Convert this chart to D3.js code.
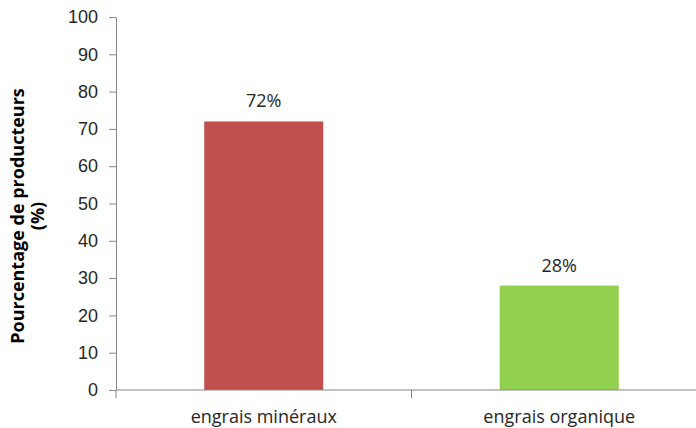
<!DOCTYPE html>
<html>
<head>
<meta charset="utf-8">
<script src="https://cdn.jsdelivr.net/npm/d3@7"></script>
<style>
  html, body { margin: 0; padding: 0; background: #fff; }
  svg { display: block; font-family: "Open Sans", "Liberation Sans", sans-serif; }
</style>
</head>
<body>
<svg id="chart" width="696" height="428"></svg>
<script>
const categories = ["engrais minéraux", "engrais organique"];
const values = [72, 28];
const barColors = ["#C0504D", "#92D050"];
const yTicks = [0, 10, 20, 30, 40, 50, 60, 70, 80, 90, 100];
const yTitle = ["Pourcentage de producteurs", "(%)"];

const svg = d3.select("#chart");
const plotLeft = 116, plotTop = 17, plotBottom = 390, plotRight = 707;

const x = d3.scaleBand().domain(categories).range([plotLeft, plotRight]).paddingInner(0).paddingOuter(0);
const y = d3.scaleLinear().domain([0, 100]).range([plotBottom, plotTop]);
const axisColor = "#868686";
const textColor = "#262626";

// y axis
const yAxis = svg.append("g").attr("transform", `translate(${plotLeft},0)`)
  .call(d3.axisLeft(y).tickValues(yTicks).tickSize(7).tickPadding(11).tickSizeOuter(0));
yAxis.select(".domain").attr("stroke", axisColor);
yAxis.selectAll(".tick line").attr("stroke", axisColor);
yAxis.selectAll(".tick text").attr("fill", textColor).style("font-size", "18px");

// bars
const barW = 119;
svg.selectAll("rect.bar").data(values).join("rect")
  .attr("class", "bar")
  .attr("x", (d, i) => x(categories[i]) + x.bandwidth() / 2 - barW / 2)
  .attr("width", barW)
  .attr("y", d => y(d))
  .attr("height", d => y(0) - y(d))
  .attr("fill", (d, i) => barColors[i]);

// value labels
svg.selectAll("text.val").data(values).join("text")
  .attr("class", "val")
  .attr("x", (d, i) => x(categories[i]) + x.bandwidth() / 2)
  .attr("y", d => y(d) - 14)
  .attr("text-anchor", "middle")
  .attr("fill", textColor)
  .style("font-size", "18px")
  .text(d => d + "%");

// x axis with boundary ticks between categories
svg.append("line")
  .attr("x1", plotLeft).attr("x2", plotRight)
  .attr("y1", plotBottom).attr("y2", plotBottom)
  .attr("stroke", axisColor);
const bounds = categories.map(c => x(c));
svg.selectAll("line.xt").data(bounds).join("line")
  .attr("class", "xt")
  .attr("x1", d => d).attr("x2", d => d)
  .attr("y1", plotBottom).attr("y2", plotBottom + 8)
  .attr("stroke", axisColor);
svg.selectAll("text.cat").data(categories).join("text")
  .attr("class", "cat")
  .attr("x", d => x(d) + x.bandwidth() / 2)
  .attr("y", 423)
  .attr("text-anchor", "middle")
  .attr("fill", textColor)
  .style("font-size", "18px")
  .text(d => d);

// y axis title
const t = svg.append("text")
  .attr("transform", "translate(24,216) rotate(-90)")
  .attr("text-anchor", "middle")
  .style("font-size", "18px")
  .style("font-weight", "bold")
  .attr("fill", "#000");
yTitle.forEach((s, i) => t.append("tspan").attr("x", 0).attr("dy", i === 0 ? 0 : 20).text(s));
</script>
</body>
</html>
